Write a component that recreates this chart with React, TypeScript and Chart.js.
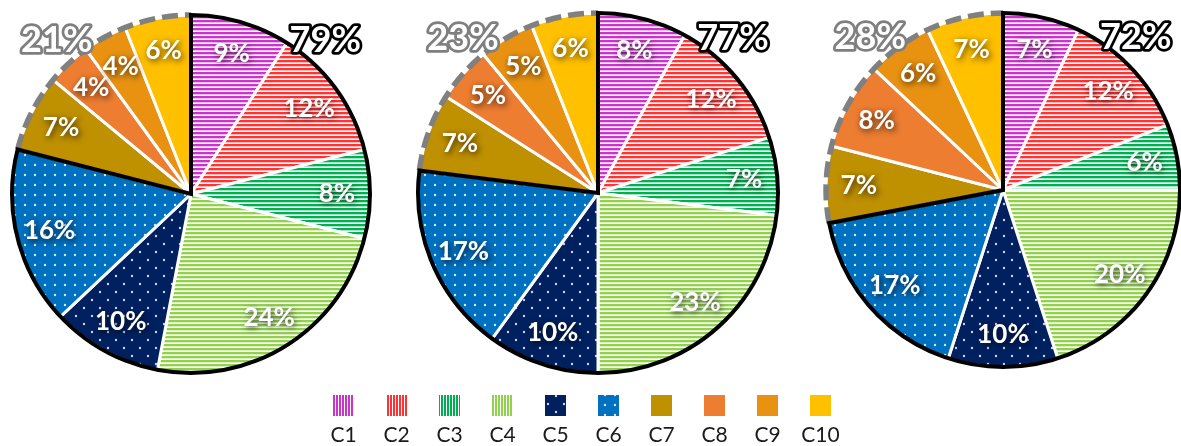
import React, { useEffect, useRef } from 'react';
import { Chart, registerables } from 'chart.js';

Chart.register(...registerables);

// ---------- data ----------
const categories = ['C1', 'C2', 'C3', 'C4', 'C5', 'C6', 'C7', 'C8', 'C9', 'C10'];
const pie1Values = [9, 12, 8, 24, 10, 16, 7, 4, 4, 6];
const pie2Values = [8, 12, 7, 23, 10, 17, 7, 5, 5, 6];
const pie3Values = [7, 12, 6, 20, 10, 17, 7, 8, 6, 7];
// first group (outlined in black) = C1..C6, second group (dashed gray) = C7..C10
const groupSplit = 6;

const colors = ['#CC33CC', '#FF3333', '#00B050', '#92D050', '#002060', '#0070C0', '#BF9000', '#ED7D31', '#E99212', '#FFC000'];
const fillKinds = ['stripe', 'stripe', 'stripe', 'stripe', 'sparseDots', 'denseDots', 'solid', 'solid', 'solid', 'solid'];

const W = 1181;
const H = 446;
const FONT = 'Lato, "Open Sans", sans-serif';

// ---------- patterns ----------
function makeTile(w: number, h: number, draw: (c: CanvasRenderingContext2D) => void) {
  const t = document.createElement('canvas');
  t.width = w;
  t.height = h;
  const c = t.getContext('2d')!;
  draw(c);
  return c.createPattern(t, 'repeat')!;
}

function makeFill(kind: string, color: string, vertical: boolean): any {
  if (kind === 'stripe') {
    if (vertical) {
      return makeTile(3, 3, (c) => {
        c.fillStyle = '#fff';
        c.fillRect(0, 0, 3, 3);
        c.fillStyle = color;
        c.fillRect(0, 0, 2, 3);
      });
    }
    return makeTile(4, 4, (c) => {
      c.fillStyle = '#fff';
      c.fillRect(0, 0, 4, 4);
      c.fillStyle = color;
      c.fillRect(0, 0, 4, 2);
      c.globalAlpha = 0.35;
      c.fillRect(0, 2, 4, 1);
      c.globalAlpha = 1;
    });
  }
  if (kind === 'denseDots') {
    return makeTile(10, 10, (c) => {
      c.fillStyle = color;
      c.fillRect(0, 0, 10, 10);
      c.fillStyle = 'rgba(255,255,255,0.85)';
      c.beginPath();
      c.arc(5, 5, 1.2, 0, Math.PI * 2);
      c.fill();
    });
  }
  if (kind === 'sparseDots') {
    return makeTile(16, 16, (c) => {
      c.fillStyle = color;
      c.fillRect(0, 0, 16, 16);
      c.fillStyle = 'rgba(255,255,255,0.8)';
      c.beginPath();
      c.arc(4, 4, 1.2, 0, Math.PI * 2);
      c.arc(12, 12, 1.2, 0, Math.PI * 2);
      c.fill();
    });
  }
  return color;
}

function sum(a: number[]) {
  return a.reduce((s, v) => s + v, 0);
}

// ---------- plugins ----------
const pieDecor = {
  id: 'pieDecor',
  afterDatasetsDraw(chart: any) {
    const ctx: CanvasRenderingContext2D = chart.ctx;
    const meta = chart.getDatasetMeta(0);
    const arcs: any[] = meta.data;
    const values: number[] = chart.data.datasets[0].data;
    const a0 = arcs[0];
    const x = a0.x;
    const y = a0.y;
    const r = a0.outerRadius;
    const start = a0.startAngle;
    const mid = arcs[groupSplit - 1].endAngle;
    const end = arcs[arcs.length - 1].endAngle;

    // dashed gray outline on second group
    ctx.save();
    ctx.strokeStyle = '#808080';
    ctx.lineWidth = 5.5;
    ctx.setLineDash([16, 7]);
    ctx.beginPath();
    ctx.arc(x, y, r, mid, end);
    ctx.stroke();
    ctx.restore();

    // solid black outline on first group
    ctx.save();
    ctx.strokeStyle = '#000';
    ctx.lineWidth = 4;
    ctx.lineJoin = 'miter';
    ctx.beginPath();
    ctx.moveTo(x, y);
    ctx.arc(x, y, r, start, mid);
    ctx.closePath();
    ctx.stroke();
    ctx.restore();

    // slice labels
    ctx.save();
    ctx.font = `bold 26px ${FONT}`;
    ctx.textAlign = 'center';
    ctx.textBaseline = 'middle';
    ctx.fillStyle = '#fff';
    ctx.shadowColor = 'rgba(0,0,0,0.75)';
    ctx.shadowBlur = 6;
    ctx.shadowOffsetX = 1.5;
    ctx.shadowOffsetY = 2;
    arcs.forEach((arc, i) => {
      const m = (arc.startAngle + arc.endAngle) / 2;
      const d = r * 0.815;
      ctx.fillText(`${values[i]}%`, x + Math.cos(m) * d, y + Math.sin(m) * d);
    });
    ctx.restore();

    // group labels
    const gA = sum(values.slice(0, groupSplit));
    const gB = sum(values.slice(groupSplit));
    ctx.save();
    ctx.font = `bold 36px ${FONT}`;
    ctx.textAlign = 'center';
    ctx.textBaseline = 'middle';
    ctx.lineJoin = 'round';
    ctx.lineWidth = 5.5;
    const ox = r * 0.75;
    const oy = r * 0.86;
    ctx.strokeStyle = '#000';
    ctx.strokeText(`${gA}%`, x + ox, y - oy);
    ctx.fillStyle = '#fff';
    ctx.fillText(`${gA}%`, x + ox, y - oy);
    ctx.strokeStyle = '#7F7F7F';
    ctx.strokeText(`${gB}%`, x - ox, y - oy);
    ctx.fillStyle = '#fff';
    ctx.fillText(`${gB}%`, x - ox, y - oy);
    ctx.restore();
  },
};

const bottomLegend = {
  id: 'bottomLegend',
  afterDraw(chart: any) {
    const o = chart.options.plugins.bottomLegend;
    if (!o || !o.show) return;
    const ctx: CanvasRenderingContext2D = chart.ctx;
    const n = categories.length;
    const step = 53;
    const box = 21;
    const centerX = 582;
    const boxTop = 395;
    ctx.save();
    categories.forEach((label, i) => {
      const cx = centerX + (i - (n - 1) / 2) * step;
      ctx.fillStyle = o.fills[i];
      ctx.fillRect(cx - box / 2, boxTop, box, box);
      ctx.fillStyle = '#1a1a1a';
      ctx.font = `21px ${FONT}`;
      ctx.textAlign = 'center';
      ctx.textBaseline = 'middle';
      ctx.fillText(label, cx, 435);
    });
    ctx.restore();
  },
};

// ---------- pie placement ----------
const pies = [
  { values: pie1Values, cx: 191, cy: 194, r: 179 },
  { values: pie2Values, cx: 598, cy: 193, r: 180 },
  { values: pie3Values, cx: 1003, cy: 190, r: 177 },
];

function PieCanvas({ idx }: { idx: number }) {
  const ref = useRef<HTMLCanvasElement>(null);
  useEffect(() => {
    const p = pies[idx];
    const pieFills = colors.map((c, i) => makeFill(fillKinds[i], c, false));
    const legendFills = colors.map((c, i) => makeFill(fillKinds[i], c, true));
    // chart area centred on (cx, cy)
    const halfW = Math.min(p.cx, W - p.cx);
    const halfH = Math.min(p.cy, H - p.cy);
    const padding = {
      left: p.cx - halfW,
      right: W - (p.cx + halfW),
      top: p.cy - halfH,
      bottom: H - (p.cy + halfH),
    };
    const chart = new Chart(ref.current!, {
      type: 'pie',
      data: {
        labels: categories,
        datasets: [
          {
            data: p.values,
            backgroundColor: pieFills,
            borderColor: '#ffffff',
            borderWidth: 3,
            radius: p.r,
          } as any,
        ],
      },
      options: {
        responsive: false,
        animation: false,
        events: [],
        devicePixelRatio: 1,
        layout: { padding },
        plugins: {
          legend: { display: false },
          tooltip: { enabled: false },
          bottomLegend: { show: idx === 1, fills: legendFills },
        } as any,
      },
      plugins: [pieDecor, bottomLegend],
    });
    return () => chart.destroy();
  }, [idx]);
  return (
    <canvas
      ref={ref}
      width={W}
      height={H}
      style={{ position: 'absolute', left: 0, top: 0, width: W, height: H }}
    />
  );
}

export default function App() {
  useEffect(() => {
    document.body.style.margin = '0';
  }, []);
  return (
    <div style={{ position: 'relative', width: W, height: H, overflow: 'hidden', background: '#fff' }}>
      <PieCanvas idx={0} />
      <PieCanvas idx={1} />
      <PieCanvas idx={2} />
    </div>
  );
}
